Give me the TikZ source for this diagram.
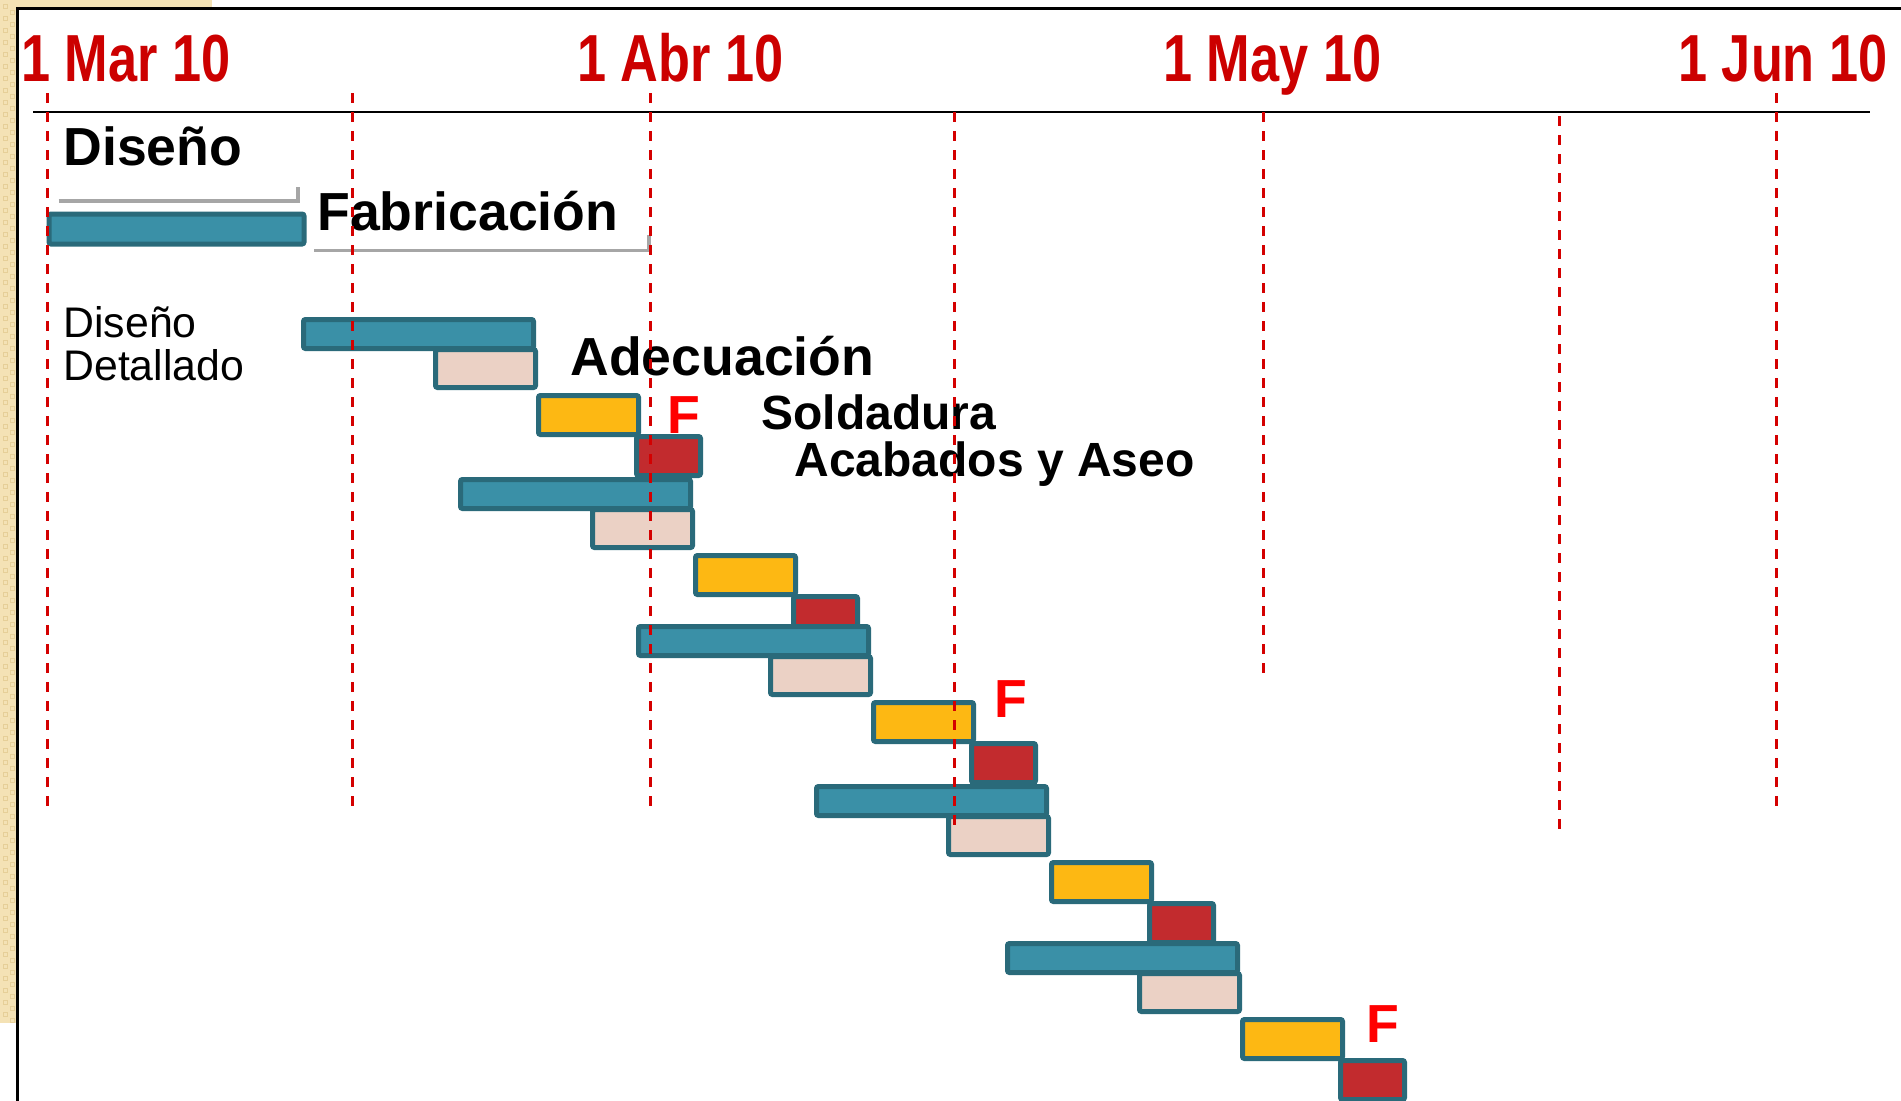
\documentclass[tikz,border=0pt]{standalone}
\usepackage{fontspec}
\setmainfont{Liberation Sans}
\newfontfamily\datefont{Liberation Sans}[FakeStretch=0.785]
\usetikzlibrary{fit}
\definecolor{tealfill}{HTML}{3A90A7}
\definecolor{barline}{HTML}{2A6A7A}
\definecolor{pinkfill}{HTML}{EBD1C5}
\definecolor{yellowfill}{HTML}{FDB813}
\definecolor{redfill}{HTML}{C22B2E}
\definecolor{datered}{HTML}{CC0000}
\definecolor{flagred}{HTML}{FF0000}
\definecolor{dashred}{HTML}{D40000}
\definecolor{bracketgray}{HTML}{A6A6A6}
\definecolor{beige}{HTML}{F4E2B5}
\definecolor{beigedark}{HTML}{E6CF98}
\tikzset{
  gbar/.style={draw=barline, line width=2.5pt, rounded corners=1pt, inner sep=0pt, outer sep=0pt},
  tealbar/.style={gbar, fill=tealfill},
  pinkbar/.style={gbar, fill=pinkfill},
  yellowbar/.style={gbar, fill=yellowfill},
  redbar/.style={gbar, fill=redfill},
  datelabel/.style={anchor=base west, inner sep=0pt, text=datered, font=\datefont\bfseries\fontsize{33.3}{36}\selectfont},
  biglabel/.style={anchor=base west, inner sep=0pt, font=\bfseries\fontsize{26.8}{30}\selectfont},
  midlabel/.style={anchor=base west, inner sep=0pt, font=\bfseries\fontsize{24}{28}\selectfont},
  smalllabel/.style={anchor=base west, inner sep=0pt, font=\fontsize{21.4}{23}\selectfont},
  flaglabel/.style={biglabel, text=flagred},
  dateline/.style={draw=dashred, line width=1.5pt, dash pattern=on 5pt off 4.5pt},
  bracketline/.style={draw=bracketgray, line width=1.6pt},
  frameline/.style={draw=black, line width=1.5pt},
  headline/.style={draw=black, line width=1.25pt},
}
\begin{document}
\begin{tikzpicture}[x=0.5pt, y=-0.5pt]
\useasboundingbox (0,0) rectangle (1901,1100);
\clip (0,0) rectangle (1901,1100);
% background texture
\fill[beige] (0,0) rectangle (16,1023);
\fill[beige] (0,0) rectangle (212,8);
\foreach \yy in {4,16,...,1016} {
  \draw[beigedark, line width=0.5pt] (3,\yy) rectangle (7,\yy+4);
  \draw[beigedark, line width=0.5pt] (10,\yy+6) rectangle (14,\yy+10);
}
% frame
\fill[white] (17.5,8) rectangle (1910,1110);
\draw[frameline] (17.5,1110) -- (17.5,8) -- (1910,8);
% header
\node[datelabel] (mar) at (21,81) {1 Mar 10};
\node[datelabel] (abr) at (577,81) {1 Abr 10};
\node[datelabel] (may) at (1163,81) {1 May 10};
\node[datelabel] (jun) at (1678,81) {1 Jun 10};
\draw[headline] (33,112) -- (1870,112);
% phase labels
\node[biglabel] (disenolbl) at (63,165.7) {Diseño};
\draw[bracketline] (58.5,201) -- (298,201) -- (298,187);
\node[tealbar, fit={(49,214) (304,244)}] (disenobar) {};
\node[biglabel] (fablbl) at (317,230) {Fabricación};
\draw[bracketline] (314,250.7) -- (649,250.7) -- (649,235);
\node[smalllabel] (ddlbl1) at (63,337) {Diseño};
\node[smalllabel] (ddlbl2) at (63,380.7) {Detallado};
% bars
\foreach \g/\tx/\ty in {1/301/317, 2/458/477, 3/636/624, 4/814/784, 5/1005/941} {
  \node[tealbar, fit={(\tx+2.5,\ty+2.5) (\tx+232.5,\ty+31.5)}] (teal\g) {};
  \node[pinkbar, fit={(\tx+134.5,\ty+32.5) (\tx+234.5,\ty+70.5)}] (pink\g) {};
  \node[yellowbar, fit={(\tx+237.5,\ty+78.5) (\tx+337.5,\ty+117.5)}] (yellow\g) {};
  \node[redbar, fit={(\tx+335.5,\ty+119.5) (\tx+399.5,\ty+158.5)}] (red\g) {};
}
% task labels
\node[biglabel] (adelbl) at (570,375) {Adecuación};
\node[midlabel] (sollbl) at (761,429.3) {Soldadura};
\node[midlabel] (acalbl) at (794,476) {Acabados y Aseo};
\node[flaglabel] (f1) at (667,433) {F};
\node[flaglabel] (f2) at (994,717) {F};
\node[flaglabel] (f3) at (1366,1042) {F};
% date lines
\draw[dateline] (47.5,93) -- (47.5,810);
\draw[dateline] (352.5,93) -- (352.5,810);
\draw[dateline] (650,93) -- (650,810);
\draw[dateline] (954,112) -- (954,829);
\draw[dateline] (1263,112) -- (1263,680);
\draw[dateline] (1559,116) -- (1559,834);
\draw[dateline] (1776,93) -- (1776,810);
\end{tikzpicture}
\end{document}
